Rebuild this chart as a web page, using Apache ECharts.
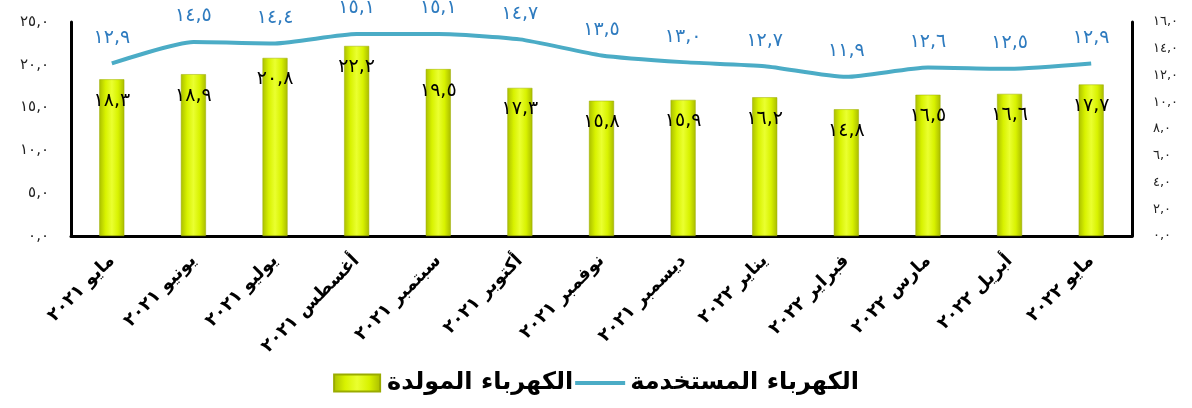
<!DOCTYPE html>
<html>
<head>
<meta charset="utf-8">
<script src="https://cdn.jsdelivr.net/npm/echarts@6/dist/echarts.min.js"></script>
<style>
  html, body { margin: 0; padding: 0; background: #fff; }
  #chart { width: 1192px; height: 408px; }
</style>
</head>
<body>
<div id="chart"></div>
<script>
// months (x axis)
const months = [
  "مايو ٢٠٢١", "يونيو ٢٠٢١", "يوليو ٢٠٢١", "أغسطس ٢٠٢١", "سبتمبر ٢٠٢١",
  "أكتوبر ٢٠٢١", "نوفمبر ٢٠٢١", "ديسمبر ٢٠٢١", "يناير ٢٠٢٢", "فبراير ٢٠٢٢",
  "مارس ٢٠٢٢", "أبريل ٢٠٢٢", "مايو ٢٠٢٢"
];
// generated electricity (bars, left axis)
const generated = [18.3, 18.9, 20.8, 22.2, 19.5, 17.3, 15.8, 15.9, 16.2, 14.8, 16.5, 16.6, 17.7];
// used electricity (line, right axis)
const used = [12.9, 14.5, 14.4, 15.1, 15.1, 14.7, 13.5, 13.0, 12.7, 11.9, 12.6, 12.5, 12.9];

const seriesNames = ["الكهرباء المولدة", "الكهرباء المستخدمة"];

// western digits -> arabic-indic, decimal point -> comma
function arNum(v) {
  return Number(v).toFixed(1)
    .replace(".", ",")
    .replace(/\d/g, d => "٠١٢٣٤٥٦٧٨٩"[d]);
}

const arFont = "DejaVu Sans";

const barColor = new echarts.graphic.LinearGradient(0, 0, 1, 0, [
  { offset: 0, color: "#abbf00" },
  { offset: 0.25, color: "#d8f200" },
  { offset: 0.5, color: "#eaff30" },
  { offset: 0.75, color: "#d8f200" },
  { offset: 1, color: "#a9bb00" }
]);

let myChart = echarts.init(document.getElementById("chart"));
myChart.setOption({
  animation: false,
  grid: { left: 71, right: 60, top: 22, bottom: 172 },
  legend: {
    bottom: 8,
    left: "center",
    itemGap: 2,
    itemWidth: 50,
    itemHeight: 17,
    textStyle: { fontFamily: arFont, fontWeight: "bold", fontSize: 24, color: "#000" },
    data: [
      { name: seriesNames[0], icon: "path://M2,0 H48 V17 H2 Z" },
      { name: seriesNames[1], icon: "path://M0,7 H50 V11 H0 Z" }
    ]
  },
  xAxis: {
    type: "category",
    data: months,
    axisLine: { lineStyle: { color: "#000", width: 3 } },
    axisTick: { show: false },
    axisLabel: {
      rotate: 45,
      margin: 22,
      color: "#000",
      fontFamily: arFont,
      fontSize: 18,
      fontWeight: "bold"
    }
  },
  yAxis: [
    {
      type: "value",
      min: 0,
      max: 25,
      interval: 5,
      axisLine: { show: true, lineStyle: { color: "#000", width: 3 } },
      axisTick: { show: false },
      splitLine: { show: false },
      axisLabel: { color: "#222", fontFamily: arFont, fontSize: 15, margin: 22, formatter: arNum }
    },
    {
      type: "value",
      min: 0,
      max: 16,
      interval: 2,
      axisLine: { show: true, lineStyle: { color: "#000", width: 3 } },
      axisTick: { show: false },
      splitLine: { show: false },
      axisLabel: { color: "#222", fontFamily: arFont, fontSize: 13, margin: 21, formatter: arNum }
    }
  ],
  series: [
    {
      name: seriesNames[0],
      type: "bar",
      yAxisIndex: 0,
      barWidth: 25,
      data: generated,
      itemStyle: { color: barColor, borderColor: "#9aab00", borderWidth: 0.5 },
      label: {
        show: true,
        position: "insideTop",
        distance: 12,
        color: "#000",
        fontFamily: arFont,
        fontSize: 19,
        formatter: p => arNum(p.value)
      },
      z: 2
    },
    {
      name: seriesNames[1],
      type: "line",
      yAxisIndex: 1,
      data: used,
      smooth: 0.2,
      symbol: "circle",
      symbolSize: 0.1,
      showSymbol: true,
      lineStyle: { color: "#4bacc6", width: 4 },
      itemStyle: { color: "#4bacc6" },
      label: {
        show: true,
        position: "top",
        distance: 16,
        color: "#2e7bbf",
        fontFamily: arFont,
        fontSize: 19,
        formatter: p => arNum(p.value)
      },
      z: 3
    }
  ]
});
</script>
</body>
</html>
